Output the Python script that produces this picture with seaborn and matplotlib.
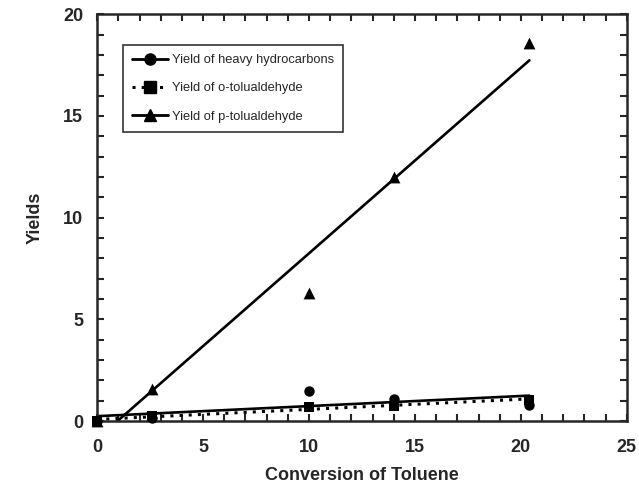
import matplotlib
matplotlib.use("Agg")
import matplotlib.pyplot as plt
import seaborn as sns
import numpy as np
from matplotlib.lines import Line2D
from matplotlib.ticker import MultipleLocator

sns.set_style("ticks")
plt.rcParams['font.family'] = ['Liberation Sans', 'DejaVu Sans']

conversion = [0, 2.6, 10, 14, 20.4]
heavy_hc = [0, 0.15, 1.5, 1.1, 0.8]
o_tolualdehyde = [0, 0.25, 0.7, 0.75, 1.05]
p_tolualdehyde = [0, 1.6, 6.3, 12.0, 18.6]

labels = ["Yield of heavy hydrocarbons", "Yield of o-tolualdehyde", "Yield of p-tolualdehyde"]

fig = plt.figure(figsize=(6.39, 4.88), dpi=100)
ax = fig.add_axes([0.152, 0.137, 0.829, 0.834])

dotted = (0, (1.0, 2.0))
series = [
    (heavy_hc, "o", "-", 7.5),
    (o_tolualdehyde, "s", dotted, 7.5),
    (p_tolualdehyde, "^", "-", 8.5),
]
for ys, m, ls, ms in series:
    sns.regplot(x=np.array(conversion), y=np.array(ys), ax=ax, ci=None, marker=m,
                color="black", truncate=True,
                scatter_kws=dict(s=ms**2, clip_on=False, zorder=3, linewidths=0, alpha=1),
                line_kws=dict(linestyle=ls, linewidth=1.9 if ls == "-" else 2.2))

ax.set_xlim(0, 25)
ax.set_ylim(0, 20)
ax.xaxis.set_major_locator(MultipleLocator(5))
ax.xaxis.set_minor_locator(MultipleLocator(1))
ax.yaxis.set_major_locator(MultipleLocator(5))
ax.yaxis.set_minor_locator(MultipleLocator(1))
ax.tick_params(which="both", direction="in", top=True, right=True, width=1.5, length=5,
               labelsize=13, pad=10)
ax.tick_params(axis="x", which="both", pad=13)
for lab in ax.get_xticklabels() + ax.get_yticklabels():
    lab.set_fontweight("bold")
for sp in ax.spines.values():
    sp.set_linewidth(1.8)
    sp.set_visible(True)

ax.set_xlabel("Conversion of Toluene", fontsize=13, fontweight="bold", labelpad=8)
ax.set_ylabel("Yields", fontsize=13, fontweight="bold", labelpad=14)

handles = [
    Line2D([], [], color="black", marker="o", linestyle="-", linewidth=2, markersize=8),
    Line2D([], [], color="black", marker="s", linestyle=dotted, linewidth=2.2, markersize=8),
    Line2D([], [], color="black", marker="^", linestyle="-", linewidth=2, markersize=8),
]
leg = ax.legend(handles, labels, loc="upper left", bbox_to_anchor=(0.0485, 0.924),
                borderaxespad=0,
                fontsize=9.3, frameon=True, fancybox=False, edgecolor="black",
                handlelength=2.8, labelspacing=1.25, borderpad=0.7, handletextpad=0.3)
leg.get_frame().set_linewidth(1.2)

fig.savefig("out.png", dpi=100)
